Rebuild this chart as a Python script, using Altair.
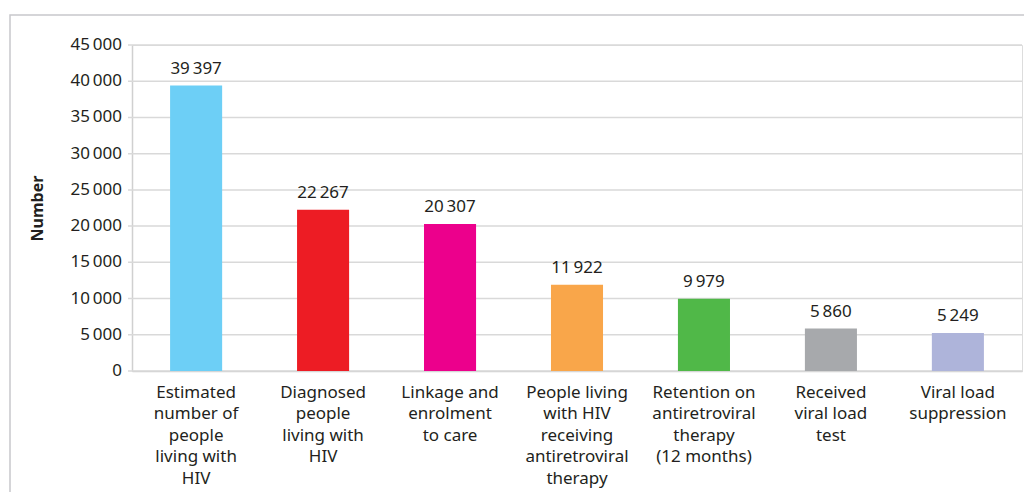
import altair as alt
import pandas as pd

categories = [
    "Estimated|number of|people|living with|HIV",
    "Diagnosed|people|living with|HIV",
    "Linkage and|enrolment|to care",
    "People living|with HIV|receiving|antiretroviral|therapy",
    "Retention on|antiretroviral|therapy|(12 months)",
    "Received|viral load|test",
    "Viral load|suppression",
]
values = [39397, 22267, 20307, 11922, 9979, 5860, 5249]
colors = ["#6DCFF6", "#ED1C24", "#EC008C", "#F9A64A", "#50B848", "#A7A9AC", "#AEB4DA"]
yticks = [0, 5000, 10000, 15000, 20000, 25000, 30000, 35000, 40000, 45000]

df = pd.DataFrame({"cat": categories, "val": values, "color": colors})
tdf = pd.DataFrame({"v": yticks})

FONT = "Noto Sans"
TXT = "#231F20"
GRID = "#D9D9D9"
FS = 17

yscale = alt.Scale(domain=[0, 45000], nice=False)

xenc = alt.X("cat:N", sort=None,
             scale=alt.Scale(paddingInner=0.59, paddingOuter=0.3),
             axis=alt.Axis(title=None, labelAngle=0, labelExpr="split(datum.label, '|')",
                           labelFontSize=FS, labelLineHeight=21.5, labelPadding=13,
                           labelColor=TXT, labelFont=FONT, ticks=False,
                           domainColor="#D0D0D0", domainWidth=1.5, labelBaseline="top"))

frame = alt.Chart(df).mark_rect(fill="transparent", stroke="#C8C8CC", strokeWidth=1.5).encode(
    x=alt.value(-122), x2=alt.value(960), y=alt.value(-30), y2=alt.value(600)
).transform_filter("datum.val == 39397")

grid = alt.Chart(tdf).mark_rule(color=GRID, strokeWidth=1.5).encode(
    y=alt.Y("v:Q", scale=yscale,
            axis=alt.Axis(title="Number", labels=False, ticks=False, grid=False,
                          titleFontSize=16, titleFont=FONT, titleFontWeight="bold",
                          titleColor=TXT, titlePadding=87,
                          domainColor="#D0D0D0", domainWidth=1.5)),
    x=alt.value(-4), x2=alt.value(890)
)
ylabels = alt.Chart(tdf).mark_text(align="right", baseline="middle", fontSize=FS,
                                   font=FONT, color=TXT).encode(
    y=alt.Y("v:Q", scale=yscale), x=alt.value(-10),
    text=alt.Text("v:Q", format=",d")
)

bars = alt.Chart(df).mark_bar().encode(
    x=xenc, y=alt.Y("val:Q", scale=yscale),
    color=alt.Color("color:N", scale=None),
)
labels = alt.Chart(df).mark_text(baseline="bottom", dy=-8, fontSize=FS, font=FONT, color=TXT).encode(
    x=xenc, y=alt.Y("val:Q", scale=yscale), text=alt.Text("val:Q", format=",d")
)

chart = alt.layer(frame, grid, bars, labels, ylabels).properties(
    width=890, height=326,
    autosize=alt.AutoSizeParams(type="none"),
    padding={"left": 124, "top": 37, "right": 2, "bottom": 121},
).configure_view(stroke=None).configure(
    locale={"number": {"decimal": ".", "thousands": "\u2009", "grouping": [3], "currency": ["", ""]}}
)

chart.save("out.html", embed_options={"renderer": "svg", "actions": False})
